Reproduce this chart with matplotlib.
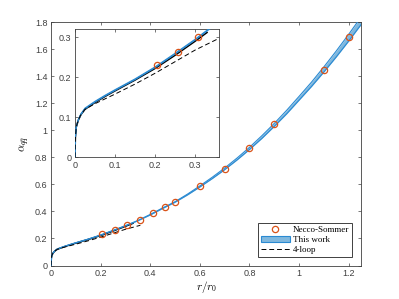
import numpy as np
import matplotlib
matplotlib.use("Agg")
import matplotlib.pyplot as plt

# Necco-Sommer points
r_ns = [0.205, 0.258, 0.308, 0.36, 0.41, 0.46, 0.50, 0.60, 0.70, 0.80, 0.90, 1.10, 1.20]
a_ns = [0.231, 0.264, 0.300, 0.340, 0.385, 0.434, 0.471, 0.585, 0.716, 0.870, 1.046, 1.448, 1.688]

# This work: central curve and band half-width
r_fit = [0.0, 0.0005, 0.001, 0.003, 0.008, 0.015, 0.025, 0.05, 0.075, 0.1, 0.15, 0.2, 0.25,
         0.3, 0.35, 0.4, 0.45, 0.5, 0.55, 0.6, 0.65, 0.7, 0.75, 0.8, 0.85, 0.9, 0.95,
         1.0, 1.05, 1.1, 1.15, 1.2, 1.25]
a_fit = [0.0, 0.03, 0.05, 0.075, 0.093, 0.108, 0.122, 0.139, 0.154, 0.168, 0.195, 0.225, 0.259,
         0.294, 0.332, 0.376, 0.424, 0.470, 0.525, 0.585, 0.648, 0.715, 0.788, 0.866, 0.950, 1.040, 1.135,
         1.237, 1.340, 1.450, 1.565, 1.685, 1.810]
a_err = [0.0, 0.001, 0.001, 0.001, 0.001, 0.001, 0.001, 0.001, 0.001, 0.001, 0.001, 0.001, 0.001,
         0.001, 0.001, 0.002, 0.002, 0.002, 0.003, 0.004, 0.005, 0.006, 0.007, 0.008, 0.010, 0.011, 0.013,
         0.014, 0.016, 0.019, 0.022, 0.025, 0.028]

# solid black curve at short distance
r_blk = [0.0, 0.0005, 0.001, 0.003, 0.008, 0.015, 0.025, 0.05, 0.075, 0.1, 0.15, 0.2, 0.25, 0.3, 0.33]
a_blk = [0.0, 0.03, 0.05, 0.075, 0.092, 0.107, 0.120, 0.137, 0.152, 0.166, 0.193, 0.222, 0.255, 0.290, 0.312]

# 4-loop
r_4l = [0.0, 0.0005, 0.001, 0.003, 0.008, 0.015, 0.025, 0.05, 0.1, 0.15, 0.2, 0.25, 0.3, 0.36]
a_4l = [0.0, 0.03, 0.05, 0.075, 0.093, 0.107, 0.120, 0.134, 0.158, 0.183, 0.210, 0.239, 0.268, 0.2975]

main_xticks = [0, 0.2, 0.4, 0.6, 0.8, 1, 1.2]
main_yticks = [0, 0.2, 0.4, 0.6, 0.8, 1, 1.2, 1.4, 1.6, 1.8]
ins_ticks = [0, 0.1, 0.2, 0.3]

orange = '#d95319'
blue_line = '#2a8ad2'
blue_fill = '#80b8de'
gray = '#404040'
tickfont = 'Liberation Sans'

plt.rcParams['mathtext.fontset'] = 'cm'


def fmt(v):
    return ('%g' % v)


def draw(ax, with_label=False):
    r = np.array(r_fit)
    a = np.array(a_fit)
    e = np.array(a_err)
    ax.fill_between(r, a - e, a + e, color=blue_fill, lw=0, zorder=1)
    ax.plot(r_blk, a_blk, color='black', lw=1.1, zorder=2)
    ax.plot(r, a - e, color=blue_line, lw=0.8, zorder=3)
    ax.plot(r, a + e, color=blue_line, lw=0.8, zorder=3)
    ax.plot(r_4l, a_4l, color='black', lw=0.7, ls=(0, (5, 3)), zorder=4)
    ax.plot(r_ns, a_ns, 'o', mfc='none', mec=orange, ms=4.5, mew=0.9, zorder=5)


def style(ax, xt, yt):
    ax.set_xticks(xt)
    ax.set_yticks(yt)
    ax.set_xticklabels([fmt(v) for v in xt], family=tickfont, fontsize=6.5, color=gray)
    ax.set_yticklabels([fmt(v) for v in yt], family=tickfont, fontsize=6.5, color=gray)
    ax.tick_params(direction='in', length=2.5, width=0.5, color=gray, top=True, right=True, pad=2.5)
    for s in ax.spines.values():
        s.set_color(gray)
        s.set_linewidth(0.6)


fig = plt.figure(figsize=(3.99, 2.99), dpi=100)
ax = fig.add_axes([0.128, 0.112, 0.777, 0.814])
draw(ax)
ax.set_xlim(0, 1.25)
ax.set_ylim(0, 1.8)
style(ax, main_xticks, main_yticks)
ax.set_xlabel(r'$r/r_0$', fontsize=8, labelpad=1)
ax.set_ylabel(r'$\alpha_{q\bar{q}}$', fontsize=8, labelpad=2)

h_ns, = ax.plot([], [], 'o', mfc='none', mec=orange, ms=4.5, mew=0.9)
h_band = matplotlib.patches.Patch(facecolor=blue_fill, edgecolor=blue_line, lw=0.8)
h_4l, = ax.plot([], [], color='black', lw=0.7, ls=(0, (5, 3)))
leg = ax.legend([h_ns, h_band, h_4l], ['Necco-Sommer', 'This work', '4-loop'],
                loc='lower right', bbox_to_anchor=(0.971, 0.035),
                prop={'family': 'Liberation Serif', 'size': 6.5},
                fancybox=False, framealpha=1, edgecolor=gray,
                handlelength=3.2, handletextpad=0.3, labelspacing=0.15, borderpad=0.35,
                borderaxespad=0)
leg.get_frame().set_linewidth(0.7)

ins = fig.add_axes([0.188, 0.474, 0.361, 0.428])
draw(ins)
ins.set_xlim(0, 0.36)
ins.set_ylim(0, 0.32)
style(ins, ins_ticks, ins_ticks)

fig.savefig('out.png', dpi=100)
